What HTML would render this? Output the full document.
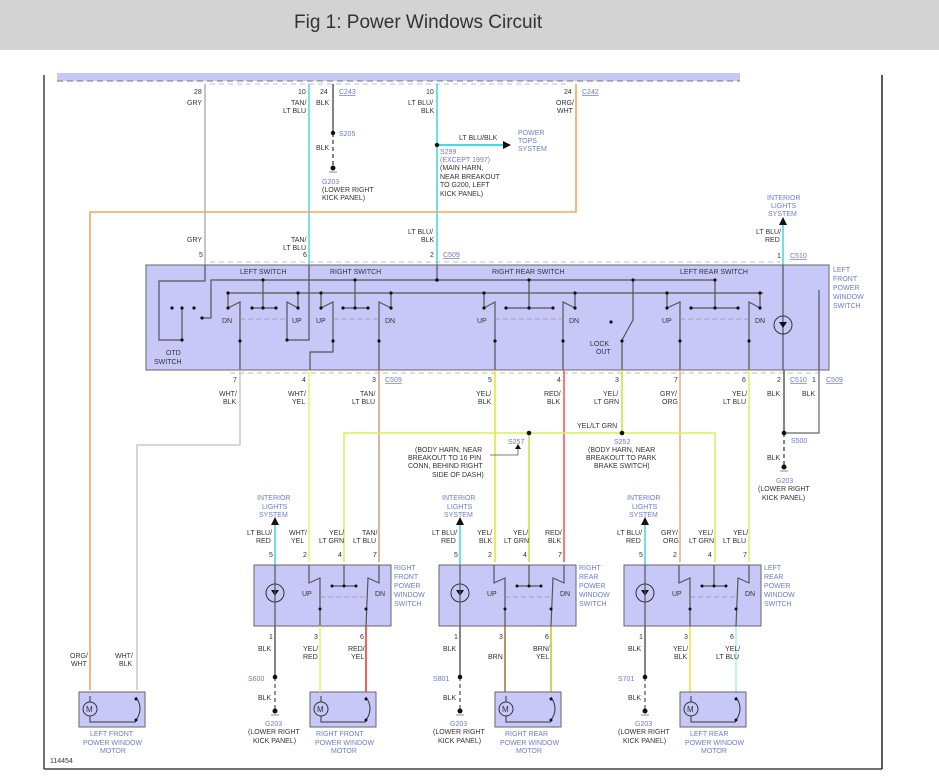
<!DOCTYPE html>
<html><head><meta charset="utf-8"><style>
body{margin:0;background:#fff;width:939px;height:783px;overflow:hidden}
svg{display:block}
text{font-family:"Liberation Sans",sans-serif;font-size:7px;fill:#333}
.b{fill:#6a7dd0}
.t{font-size:19px;fill:#333}
.k{stroke:#555;stroke-width:1.2;fill:none}
.d{fill:#111}
</style></head><body>
<svg width="939" height="783" viewBox="0 0 939 783">
<rect x="0" y="0" width="939" height="50" fill="#d3d3d3"/>
<text x="294" y="28" class="t">Fig 1: Power Windows Circuit</text>

<!-- border -->
<line x1="44" y1="75" x2="44" y2="769" stroke="#444" stroke-width="1.5"/>
<line x1="44" y1="769" x2="882" y2="769" stroke="#444" stroke-width="1.5"/>
<line x1="882" y1="75" x2="882" y2="769" stroke="#222" stroke-width="1.5"/>

<!-- top module -->
<rect x="57" y="73" width="683" height="8" fill="#c8c8f8"/>
<line x1="57" y1="81" x2="740" y2="81" stroke="#777" stroke-dasharray="6,4"/>
<line x1="210" y1="84" x2="570" y2="84" stroke="#aaa" stroke-dasharray="5,4" stroke-width="0.7"/>

<!-- top wires -->
<g stroke-width="1.6" fill="none">
<line x1="205" y1="84" x2="205" y2="265" stroke="#b8b8b8"/>
<line x1="309" y1="84" x2="309" y2="265" stroke="#5dd"/>
<line x1="333" y1="84" x2="333" y2="133" stroke="#666"/>
<line x1="333" y1="133" x2="333" y2="168" stroke="#666" stroke-dasharray="4,3"/>
<line x1="437" y1="84" x2="437" y2="265" stroke="#4dd"/>
<line x1="437" y1="145" x2="505" y2="145" stroke="#4dd" stroke-width="2"/>
<polyline points="576,84 576,212 90,212 90,690" stroke="#f5a560"/>
<line x1="783" y1="225" x2="783" y2="265" stroke="#4dd"/>
</g>
<polygon points="503,141 511,145 503,149" class="d"/>
<polygon points="779,225 783,217 787,225" class="d"/>
<circle cx="333" cy="133" r="2.2" class="d"/><circle cx="437" cy="145" r="2.2" class="d"/>
<circle cx="333" cy="168" r="2.5" class="d"/><line x1="329" y1="172" x2="337" y2="172" stroke="#888"/>

<text x="194" y="94">28</text><text x="187" y="105">GRY</text>
<text x="298" y="94">10</text><text x="291" y="105">TAN/</text><text x="283" y="113">LT BLU</text>
<text x="320" y="94">24</text><text x="316" y="105">BLK</text><text x="339" y="94" class="b" text-decoration="underline">C243</text>
<text x="339" y="136" class="b">S205</text><text x="316" y="150">BLK</text>
<text x="322" y="184" class="b">G203</text><text x="322" y="192">(LOWER RIGHT</text><text x="322" y="200">KICK PANEL)</text>
<text x="426" y="94">10</text><text x="408" y="105">LT BLU/</text><text x="421" y="113">BLK</text>
<text x="459" y="140">LT BLU/BLK</text>
<text x="518" y="135" class="b">POWER</text><text x="518" y="143" class="b">TOPS</text><text x="518" y="151" class="b">SYSTEM</text>
<text x="440" y="154" class="b">S299</text><text x="440" y="162" class="b">(EXCEPT 1997)</text>
<text x="440" y="170">(MAIN HARN,</text><text x="440" y="179">NEAR BREAKOUT</text><text x="440" y="187">TO G200, LEFT</text><text x="440" y="196">KICK PANEL)</text>
<text x="564" y="94">24</text><text x="556" y="105">ORG/</text><text x="557" y="113">WHT</text><text x="582" y="94" class="b" text-decoration="underline">C242</text>
<text x="767" y="200" class="b">INTERIOR</text><text x="771" y="208" class="b">LIGHTS</text><text x="768" y="216" class="b">SYSTEM</text>
<text x="756" y="234">LT BLU/</text><text x="765" y="242">RED</text>
<text x="777" y="258">1</text><text x="790" y="258" class="b" text-decoration="underline">C510</text>
<text x="187" y="242">GRY</text><text x="199" y="257">5</text>
<text x="291" y="242">TAN/</text><text x="283" y="250">LT BLU</text><text x="303" y="257">6</text>
<text x="408" y="234">LT BLU/</text><text x="421" y="242">BLK</text><text x="430" y="257">2</text><text x="443" y="257" class="b" text-decoration="underline">C509</text>
<line x1="210" y1="262" x2="780" y2="262" stroke="#aaa" stroke-dasharray="5,4" stroke-width="0.7"/>

<!-- main switch box -->
<rect x="146" y="265" width="683" height="105" fill="#c8c8f8" stroke="#666"/>
<text x="240" y="274">LEFT SWITCH</text><text x="330" y="274">RIGHT SWITCH</text>
<text x="492" y="274">RIGHT REAR SWITCH</text><text x="680" y="274">LEFT REAR SWITCH</text>
<text x="833" y="272" class="b">LEFT</text><text x="833" y="281" class="b">FRONT</text><text x="833" y="290" class="b">POWER</text><text x="833" y="299" class="b">WINDOW</text><text x="833" y="308" class="b">SWITCH</text>
<g class="k">
<polyline points="205,265 205,281 159,281 159,340 182,340 182,308"/>
<polyline points="202,318 211,318 211,280 714,280"/>
<line x1="228" y1="293" x2="763" y2="293"/>
<line x1="228" y1="293" x2="228" y2="308"/>
<line x1="298" y1="293" x2="298" y2="308"/>
<line x1="321" y1="293" x2="321" y2="308"/>
<line x1="391" y1="293" x2="391" y2="308"/>
<line x1="484" y1="293" x2="484" y2="308"/>
<line x1="575" y1="293" x2="575" y2="308"/>
<line x1="667" y1="293" x2="667" y2="308"/>
<line x1="760" y1="293" x2="760" y2="308"/>
<line x1="252" y1="308" x2="276" y2="308"/><line x1="263" y1="280" x2="263" y2="308"/>
<line x1="343" y1="308" x2="368" y2="308"/><line x1="355" y1="280" x2="355" y2="308"/>
<line x1="506" y1="308" x2="553" y2="308"/><line x1="529" y1="280" x2="529" y2="308"/>
<line x1="691" y1="308" x2="738" y2="308"/><line x1="715" y1="280" x2="715" y2="308"/>
<!-- levers -->
<polyline points="228,308 240,302 240,370"/>
<polyline points="298,308 287,302 287,340 309,340 309,265"/>
<polyline points="321,308 333,302 333,352 310,352 310,370"/>
<polyline points="391,308 379,302 379,370"/>
<polyline points="484,308 495,302 495,370"/>
<polyline points="575,308 563,302 563,370"/>
<polyline points="667,308 680,302 680,370"/>
<polyline points="760,308 749,302 749,370"/>
<polyline points="633,280 633,320 622,340 622,370"/>
<line x1="437" y1="265" x2="437" y2="280"/>
<line x1="783" y1="265" x2="783" y2="370"/>
<polyline points="819,370 819,290"/>
</g>
<g stroke="#999" stroke-dasharray="5,3" stroke-width="0.8">
<line x1="240" y1="319" x2="287" y2="319"/><line x1="333" y1="319" x2="379" y2="319"/>
<line x1="495" y1="319" x2="563" y2="319"/><line x1="680" y1="319" x2="749" y2="319"/>
</g>
<g class="d">
<circle cx="172" cy="308" r="1.6"/><circle cx="182" cy="308" r="1.6"/><circle cx="194" cy="308" r="1.6"/><circle cx="202" cy="318" r="1.6"/>
<circle cx="182" cy="340" r="1.6"/><circle cx="263" cy="280" r="1.6"/><circle cx="355" cy="280" r="1.6"/><circle cx="437" cy="280" r="1.8"/>
<circle cx="529" cy="280" r="1.6"/><circle cx="633" cy="280" r="1.6"/><circle cx="715" cy="280" r="1.6"/>
<circle cx="228" cy="293" r="1.6"/><circle cx="298" cy="293" r="1.6"/><circle cx="321" cy="293" r="1.6"/><circle cx="391" cy="293" r="1.6"/>
<circle cx="484" cy="293" r="1.6"/><circle cx="575" cy="293" r="1.6"/><circle cx="667" cy="293" r="1.6"/><circle cx="760" cy="293" r="1.6"/>
<circle cx="252" cy="308" r="1.6"/><circle cx="263" cy="308" r="1.6"/><circle cx="276" cy="308" r="1.6"/>
<circle cx="343" cy="308" r="1.6"/><circle cx="355" cy="308" r="1.6"/><circle cx="368" cy="308" r="1.6"/>
<circle cx="506" cy="308" r="1.6"/><circle cx="529" cy="308" r="1.6"/><circle cx="553" cy="308" r="1.6"/>
<circle cx="691" cy="308" r="1.6"/><circle cx="715" cy="308" r="1.6"/><circle cx="738" cy="308" r="1.6"/>
<circle cx="228" cy="308" r="1.6"/><circle cx="298" cy="308" r="1.6"/><circle cx="321" cy="308" r="1.6"/><circle cx="391" cy="308" r="1.6"/>
<circle cx="484" cy="308" r="1.6"/><circle cx="575" cy="308" r="1.6"/><circle cx="667" cy="308" r="1.6"/><circle cx="760" cy="308" r="1.6"/>
<circle cx="611" cy="322" r="1.6"/>
<circle cx="240" cy="341" r="1.6"/><circle cx="287" cy="340" r="1.6"/><circle cx="333" cy="341" r="1.6"/><circle cx="379" cy="341" r="1.6"/>
<circle cx="495" cy="341" r="1.6"/><circle cx="563" cy="341" r="1.6"/><circle cx="622" cy="341" r="1.6"/><circle cx="680" cy="341" r="1.6"/><circle cx="749" cy="341" r="1.6"/>
</g>
<circle cx="783" cy="325" r="9" fill="none" stroke="#333"/><polygon points="779,322 787,322 783,328" class="d"/>
<text x="222" y="323">DN</text><text x="292" y="323">UP</text><text x="316" y="323">UP</text><text x="385" y="323">DN</text>
<text x="477" y="323">UP</text><text x="569" y="323">DN</text><text x="662" y="323">UP</text><text x="755" y="323">DN</text>
<text x="590" y="346">LOCK</text><text x="596" y="354">OUT</text>
<text x="166" y="355">OTD</text><text x="154" y="364">SWITCH</text>
<line x1="230" y1="373" x2="822" y2="373" stroke="#aaa" stroke-dasharray="5,4" stroke-width="0.7"/>

<!-- lower wires from main switch -->
<g fill="none" stroke-width="1.6">
<polyline points="240,370 240,445 137,445 137,690" stroke="#ccc"/>
<line x1="309" y1="370" x2="309" y2="562" stroke="#f0f070"/>
<line x1="379" y1="370" x2="379" y2="562" stroke="#c9a880"/>
<line x1="495" y1="370" x2="495" y2="562" stroke="#e8e830"/>
<line x1="564" y1="370" x2="564" y2="562" stroke="#f55"/>
<line x1="622" y1="370" x2="622" y2="433" stroke="#bfe84a"/>
<line x1="680" y1="370" x2="680" y2="562" stroke="#f0b080"/>
<line x1="749" y1="370" x2="749" y2="562" stroke="#d8f070"/>
<polyline points="344,562 344,433 715,433 715,562" stroke="#d8f060"/>
<line x1="529" y1="433" x2="529" y2="562" stroke="#bfe84a"/>
<line x1="784" y1="370" x2="784" y2="433" stroke="#666"/>
<polyline points="819,370 819,433 784,433" stroke="#666" stroke-width="1.2"/>
<line x1="784" y1="433" x2="784" y2="465" stroke="#666" stroke-dasharray="4,3"/>
<polyline points="490,455 518,455 518,448" stroke="#555" stroke-width="0.8"/>
</g>
<polygon points="515,449 518,444 521,449" class="d"/>
<circle cx="529" cy="433" r="2.3" class="d"/><circle cx="622" cy="433" r="2.3" class="d"/><circle cx="784" cy="433" r="2.3" class="d"/>
<circle cx="784" cy="467" r="2.5" class="d"/><line x1="780" y1="471" x2="788" y2="471" stroke="#888"/>
<text x="233" y="382">7</text><text x="219" y="396">WHT/</text><text x="223" y="404">BLK</text>
<text x="302" y="382">4</text><text x="288" y="396">WHT/</text><text x="292" y="404">YEL</text>
<text x="372" y="382">3</text><text x="360" y="396">TAN/</text><text x="352" y="404">LT BLU</text><text x="385" y="382" class="b" text-decoration="underline">C509</text>
<text x="488" y="382">5</text><text x="476" y="396">YEL/</text><text x="478" y="404">BLK</text>
<text x="557" y="382">4</text><text x="544" y="396">RED/</text><text x="547" y="404">BLK</text>
<text x="615" y="382">3</text><text x="603" y="396">YEL/</text><text x="594" y="404">LT GRN</text>
<text x="674" y="382">7</text><text x="660" y="396">GRY/</text><text x="662" y="404">ORG</text>
<text x="742" y="382">6</text><text x="732" y="396">YEL/</text><text x="723" y="404">LT BLU</text>
<text x="777" y="382">2</text><text x="790" y="382" class="b" text-decoration="underline">C510</text>
<text x="812" y="382">1</text><text x="826" y="382" class="b" text-decoration="underline">C509</text>
<text x="767" y="396">BLK</text><text x="802" y="396">BLK</text>
<text x="577" y="428">YEL/LT GRN</text>
<text x="508" y="444" class="b">S257</text><text x="614" y="444" class="b">S252</text>
<text x="415" y="452">(BODY HARN, NEAR</text><text x="408" y="460">BREAKOUT TO 16 PIN</text><text x="408" y="468">CONN, BEHIND RIGHT</text><text x="432" y="477">SIDE OF DASH)</text>
<text x="588" y="452">(BODY HARN, NEAR</text><text x="586" y="460">BREAKOUT TO PARK</text><text x="594" y="468">BRAKE SWITCH)</text>
<text x="791" y="443" class="b">S500</text><text x="767" y="460">BLK</text>
<text x="776" y="483" class="b">G203</text><text x="758" y="491">(LOWER RIGHT</text><text x="762" y="500">KICK PANEL)</text>

<!-- lower switches -->
<g id="sw">
<line x1="275" y1="525" x2="275" y2="565" stroke="#4dd" stroke-width="1.6"/>
<polygon points="271,525 275,517 279,525" class="d"/>
<text x="257" y="500" class="b">INTERIOR</text><text x="262" y="509" class="b">LIGHTS</text><text x="259" y="517" class="b">SYSTEM</text>
<rect x="254" y="565" width="137" height="61" fill="#c8c8f8" stroke="#666"/>
<circle cx="275" cy="593" r="9" fill="none" stroke="#333"/><polygon points="271,590 279,590 275,596" class="d"/>
<g class="k"><line x1="275" y1="565" x2="275" y2="626"/>
<polyline points="309,565 309,583 320,578 320,626"/>
<polyline points="379,565 379,583 368,578 366,626"/>
<polyline points="344,565 344,586"/><line x1="332" y1="586" x2="356" y2="586"/></g>
<line x1="320" y1="597" x2="366" y2="597" stroke="#999" stroke-dasharray="5,3" stroke-width="0.8"/>
<g class="d"><circle cx="332" cy="586" r="1.5"/><circle cx="344" cy="586" r="1.5"/><circle cx="356" cy="586" r="1.5"/><circle cx="320" cy="609" r="1.5"/><circle cx="366" cy="609" r="1.5"/></g>
<text x="302" y="596">UP</text><text x="375" y="596">DN</text>
<text x="269" y="557">5</text><text x="303" y="557">2</text><text x="338" y="557">4</text><text x="373" y="557">7</text>
<text x="269" y="639">1</text><text x="314" y="639">3</text><text x="360" y="639">6</text>
<line x1="275" y1="626" x2="275" y2="677" stroke="#666" stroke-width="1.6"/>
<line x1="275" y1="677" x2="275" y2="710" stroke="#666" stroke-dasharray="4,3" stroke-width="1.4"/>
<circle cx="275" cy="677" r="2.3" class="d"/><circle cx="275" cy="711" r="2.5" class="d"/><line x1="271" y1="715" x2="279" y2="715" stroke="#888"/>
<text x="258" y="651">BLK</text><text x="258" y="700">BLK</text>
<text x="265" y="726" class="b">G203</text><text x="248" y="734">(LOWER RIGHT</text><text x="253" y="743">KICK PANEL)</text>
<rect x="310" y="692" width="66" height="35" fill="#c8c8f8" stroke="#666"/>
<circle cx="321" cy="709" r="7" fill="none" stroke="#333"/><text x="317" y="712" style="font-size:8px">M</text>
<path d="M321 702 V696 M321 716 V722 H366 M366 697 Q374 709 366 720" fill="none" stroke="#333"/>
<circle cx="366" cy="699" r="1.5" class="d"/><circle cx="366" cy="720" r="1.5" class="d"/>
</g>
<g fill="none" stroke-width="1.6">
<line x1="320" y1="626" x2="320" y2="692" stroke="#f0f070"/><line x1="366" y1="626" x2="366" y2="692" stroke="#e84030"/>
<line x1="505" y1="626" x2="505" y2="692" stroke="#a87840"/><line x1="551" y1="626" x2="551" y2="692" stroke="#c8c830"/>
<line x1="690" y1="626" x2="690" y2="692" stroke="#e8e840"/><line x1="736" y1="626" x2="736" y2="692" stroke="#a8f0f0"/>
</g>
<use href="#sw" x="185"/><use href="#sw" x="370"/>
<!-- labels per lower switch -->
<text x="247" y="535">LT BLU/</text><text x="256" y="543">RED</text>
<text x="289" y="535">WHT/</text><text x="291" y="543">YEL</text>
<text x="329" y="535">YEL/</text><text x="319" y="543">LT GRN</text>
<text x="362" y="535">TAN/</text><text x="353" y="543">LT BLU</text>
<text x="394" y="570" class="b">RIGHT</text><text x="394" y="579" class="b">FRONT</text><text x="394" y="588" class="b">POWER</text><text x="394" y="597" class="b">WINDOW</text><text x="394" y="606" class="b">SWITCH</text>
<text x="432" y="535">LT BLU/</text><text x="441" y="543">RED</text>
<text x="477" y="535">YEL/</text><text x="479" y="543">BLK</text>
<text x="513" y="535">YEL/</text><text x="504" y="543">LT GRN</text>
<text x="545" y="535">RED/</text><text x="548" y="543">BLK</text>
<text x="579" y="570" class="b">RIGHT</text><text x="579" y="579" class="b">REAR</text><text x="579" y="588" class="b">POWER</text><text x="579" y="597" class="b">WINDOW</text><text x="579" y="606" class="b">SWITCH</text>
<text x="617" y="535">LT BLU/</text><text x="626" y="543">RED</text>
<text x="661" y="535">GRY/</text><text x="663" y="543">ORG</text>
<text x="698" y="535">YEL/</text><text x="689" y="543">LT GRN</text>
<text x="733" y="535">YEL/</text><text x="723" y="543">LT BLU</text>
<text x="764" y="570" class="b">LEFT</text><text x="764" y="579" class="b">REAR</text><text x="764" y="588" class="b">POWER</text><text x="764" y="597" class="b">WINDOW</text><text x="764" y="606" class="b">SWITCH</text>
<!-- below labels -->
<text x="248" y="681" class="b">S600</text><text x="433" y="681" class="b">S801</text><text x="618" y="681" class="b">S701</text>
<text x="303" y="651">YEL/</text><text x="303" y="659">RED</text><text x="348" y="651">RED/</text><text x="351" y="659">YEL</text>
<text x="488" y="659">BRN</text><text x="533" y="651">BRN/</text><text x="536" y="659">YEL</text>
<text x="673" y="651">YEL/</text><text x="674" y="659">BLK</text><text x="725" y="651">YEL/</text><text x="716" y="659">LT BLU</text>
<text x="316" y="736" class="b">RIGHT FRONT</text><text x="315" y="745" class="b">POWER WINDOW</text><text x="331" y="753" class="b">MOTOR</text>
<text x="505" y="736" class="b">RIGHT REAR</text><text x="500" y="745" class="b">POWER WINDOW</text><text x="516" y="753" class="b">MOTOR</text>
<text x="690" y="736" class="b">LEFT REAR</text><text x="685" y="745" class="b">POWER WINDOW</text><text x="701" y="753" class="b">MOTOR</text>
<!-- left front motor -->
<rect x="79" y="692" width="66" height="35" fill="#c8c8f8" stroke="#666"/>
<circle cx="90" cy="709" r="7" fill="none" stroke="#333"/><text x="86" y="712" style="font-size:8px">M</text>
<path d="M90 702 V696 M90 716 V722 H136 M136 697 Q144 709 136 720" fill="none" stroke="#333"/>
<circle cx="136" cy="699" r="1.5" class="d"/><circle cx="136" cy="720" r="1.5" class="d"/>
<text x="70" y="658">ORG/</text><text x="71" y="666">WHT</text><text x="115" y="658">WHT/</text><text x="119" y="666">BLK</text>
<text x="90" y="736" class="b">LEFT FRONT</text><text x="83" y="745" class="b">POWER WINDOW</text><text x="100" y="753" class="b">MOTOR</text>
<text x="50" y="763">114454</text>
</svg>
</body></html>
